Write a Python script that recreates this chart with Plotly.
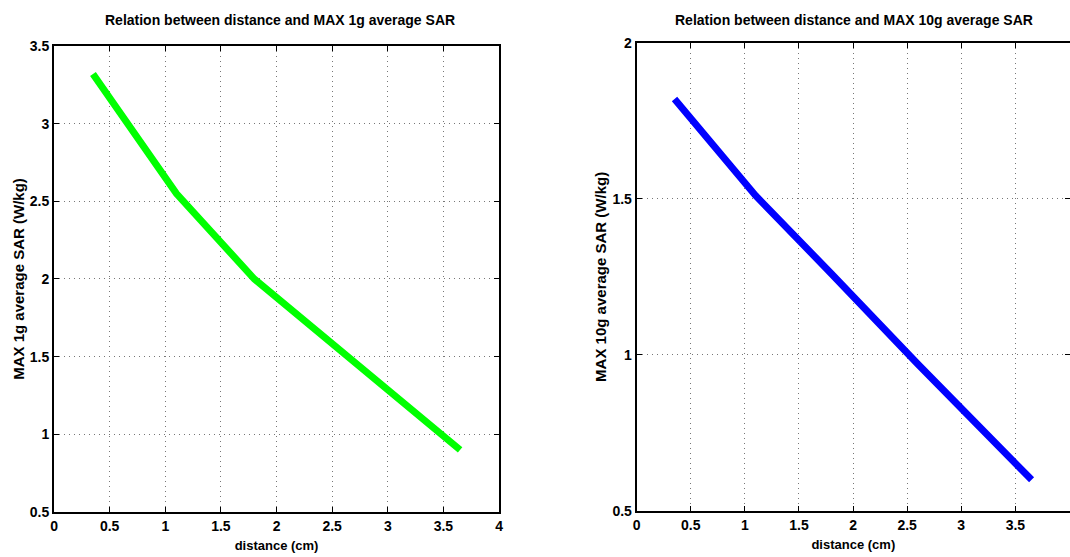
import plotly.graph_objects as go
from plotly.subplots import make_subplots

# Measured distance from the source (cm)
distance_cm = [0.35, 1.1, 1.8, 2.6, 3.65]
# Peak SAR averaged over 1 g and 10 g of tissue (W/kg)
sar_1g = [3.32, 2.55, 2.0, 1.52, 0.90]
sar_10g = [1.82, 1.51, 1.26, 0.97, 0.60]

x_ticks = [0, 0.5, 1, 1.5, 2, 2.5, 3, 3.5, 4]
x_tick_text = ["0", "0.5", "1", "1.5", "2", "2.5", "3", "3.5", "4"]
y1_ticks = [0.5, 1, 1.5, 2, 2.5, 3, 3.5]
y1_tick_text = ["0.5", "1", "1.5", "2", "2.5", "3", "3.5"]
y2_ticks = [0.5, 1, 1.5, 2]
y2_tick_text = ["0.5", "1", "1.5", "2"]

FONT = "Liberation Sans, Arial, sans-serif"

fig = make_subplots(rows=1, cols=2)

fig.add_trace(go.Scatter(x=distance_cm, y=sar_1g, mode="lines",
                         line=dict(color="#00ff00", width=7),
                         showlegend=False), row=1, col=1)
fig.add_trace(go.Scatter(x=distance_cm, y=sar_10g, mode="lines",
                         line=dict(color="#0000ff", width=7),
                         showlegend=False), row=1, col=2)

axis_common = dict(
    showline=True, linecolor="black", linewidth=2, mirror="ticks",
    ticks="inside", ticklen=5, tickwidth=1, tickcolor="black",
    showgrid=True, gridcolor="#777777", griddash="1px,4px", gridwidth=1,
    zeroline=False,
    tickfont=dict(family=FONT, size=14, color="black", weight="bold"),
)

fig.update_xaxes(**axis_common,
                 title_font=dict(family=FONT, size=13, color="black", weight="bold"))
fig.update_yaxes(**axis_common,
                 title_font=dict(family=FONT, size=15, color="black", weight="bold"))

fig.update_layout(
    xaxis=dict(domain=[0.0505, 0.4664], range=[0, 4],
               tickvals=x_ticks, ticktext=x_tick_text,
               title=dict(text="distance (cm)", standoff=8)),
    yaxis=dict(domain=[0.0808, 0.9174], range=[0.5, 3.5],
               tickvals=y1_ticks, ticktext=y1_tick_text,
               title=dict(text="MAX 1g average SAR (W/kg)", standoff=2)),
    xaxis2=dict(domain=[0.595, 1.0], range=[0, 4.005],
                tickvals=x_ticks, ticktext=x_tick_text,
                title=dict(text="distance (cm)", standoff=8)),
    yaxis2=dict(domain=[0.0826, 0.9233], range=[0.5, 2],
                tickvals=y2_ticks, ticktext=y2_tick_text,
                title=dict(text="MAX 10g average SAR (W/kg)", standoff=2)),
    width=1070, height=557,
    margin=dict(l=0, r=0, t=0, b=0, autoexpand=False),
    paper_bgcolor="white", plot_bgcolor="white",
    annotations=[
        dict(text="Relation between distance and MAX 1g average SAR",
             x=0.2615, y=1 - 20 / 557, xref="paper", yref="paper",
             xanchor="center", yanchor="middle", showarrow=False,
             font=dict(family=FONT, size=14, color="black", weight="bold")),
        dict(text="Relation between distance and MAX 10g average SAR",
             x=0.798, y=1 - 20 / 557, xref="paper", yref="paper",
             xanchor="center", yanchor="middle", showarrow=False,
             font=dict(family=FONT, size=14, color="black", weight="bold")),
    ],
)

fig.write_html("out.html")
